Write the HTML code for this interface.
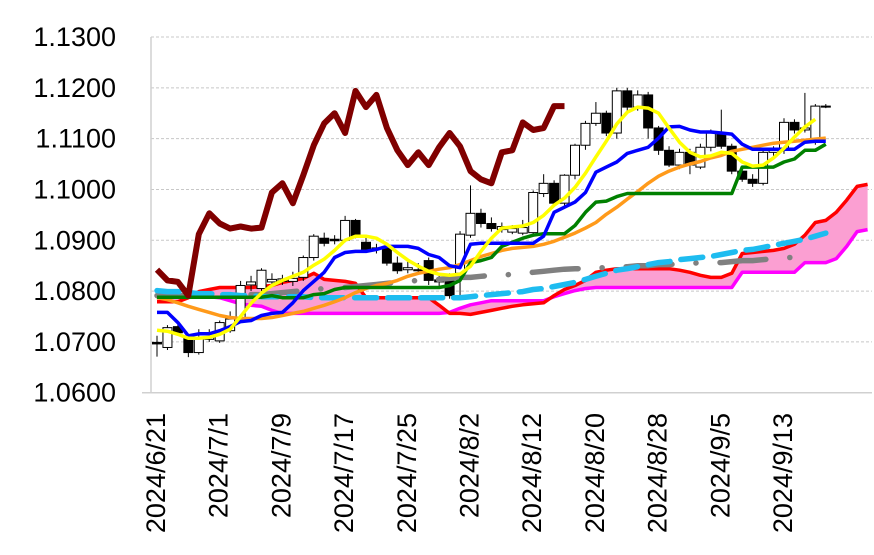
<!DOCTYPE html>
<html><head><meta charset="utf-8"><style>
html,body{margin:0;padding:0;background:#fff;}
svg{display:block;font-family:"Liberation Sans",sans-serif;}
</style></head><body>
<svg id="chart" width="874" height="555" viewBox="0 0 874 555" xmlns="http://www.w3.org/2000/svg">
<g id="grid"></g>
<g id="yaxis"></g>
<g id="xaxis"></g>
<g id="plot"></g>
</svg>
<script>
const dateLabels = ["2024/6/21","2024/7/1","2024/7/9","2024/7/17","2024/7/25","2024/8/2","2024/8/12","2024/8/20","2024/8/28","2024/9/5","2024/9/13"];
const labelIndex = [0,6,12,18,24,30,36,42,48,54,60];
const yTicks = [1.06,1.07,1.08,1.09,1.10,1.11,1.12,1.13];
const opens = [1.0699,1.0689,1.0730,1.0707,1.0679,1.0705,1.0702,1.0722,1.0742,1.0812,1.0805,1.0818,1.0819,1.0819,1.0827,1.0866,1.0904,1.0902,1.0900,1.0939,1.0896,1.0885,1.0886,1.0855,1.0842,1.0840,1.0860,1.0822,1.0827,1.0835,1.0910,1.0953,1.0933,1.0921,1.0916,1.0914,1.0915,1.0992,1.1012,1.0973,1.1028,1.1087,1.1130,1.1150,1.1111,1.1194,1.1162,1.1186,1.1121,1.1077,1.1048,1.1073,1.1044,1.1083,1.1111,1.1085,1.1036,1.1020,1.1012,1.1073,1.1077,1.1132,1.1117,1.1097,1.1164];
const closes = [1.0696,1.0728,1.0718,1.0679,1.0708,1.0710,1.0738,1.0745,1.0811,1.0818,1.0841,1.0823,1.0824,1.0825,1.0866,1.0908,1.0894,1.0899,1.0939,1.0908,1.0882,1.0883,1.0855,1.0840,1.0846,1.0842,1.0821,1.0818,1.0791,1.0912,1.0953,1.0933,1.0923,1.0927,1.0923,1.0925,1.0994,1.1012,1.0973,1.1028,1.1087,1.1130,1.1150,1.1111,1.1194,1.1162,1.1186,1.1121,1.1077,1.1048,1.1073,1.1048,1.1083,1.1111,1.1085,1.1036,1.1020,1.1012,1.1073,1.1077,1.1132,1.1117,1.1121,1.1164,1.1164];
const highs = [1.0712,1.0733,1.0736,1.0712,1.0725,1.0725,1.0742,1.0760,1.0820,1.0830,1.0845,1.0835,1.0832,1.0838,1.0870,1.0912,1.0915,1.0910,1.0948,1.0942,1.0905,1.0893,1.0890,1.0868,1.0860,1.0855,1.0866,1.0832,1.0835,1.0918,1.1008,1.0962,1.0945,1.0935,1.0930,1.0940,1.0998,1.1030,1.1018,1.1030,1.1090,1.1135,1.1172,1.1155,1.1200,1.1200,1.1195,1.1192,1.1125,1.1085,1.1080,1.1080,1.1090,1.1118,1.1157,1.1090,1.1045,1.1030,1.1078,1.1085,1.1140,1.1138,1.1190,1.1168,1.1168];
const lows = [1.0671,1.0684,1.0712,1.0670,1.0675,1.0700,1.0698,1.0718,1.0738,1.0800,1.0800,1.0812,1.0812,1.0810,1.0820,1.0860,1.0888,1.0892,1.0896,1.0904,1.0876,1.0874,1.0850,1.0834,1.0835,1.0832,1.0812,1.0810,1.0785,1.0790,1.0905,1.0925,1.0917,1.0915,1.0912,1.0910,1.0912,1.0985,1.0968,1.0968,1.1020,1.1078,1.1125,1.1105,1.1100,1.1155,1.1155,1.1100,1.1068,1.1044,1.1040,1.1030,1.1040,1.1075,1.1080,1.1030,1.1015,1.1005,1.1008,1.1065,1.1070,1.1110,1.1112,1.1088,1.1160];
const tenkan = [1.0758,1.0758,1.0738,1.0712,1.0716,1.0716,1.0722,1.0730,1.0740,1.0742,1.0752,1.0756,1.0758,1.0777,1.0801,1.0819,1.0837,1.0866,1.0876,1.0878,1.0878,1.0882,1.0888,1.0888,1.0888,1.0884,1.0872,1.0866,1.0850,1.0846,1.0892,1.0894,1.0894,1.0894,1.0894,1.0894,1.0894,1.0908,1.0955,1.0965,1.0975,1.0994,1.1034,1.1044,1.1054,1.1071,1.1077,1.1083,1.1101,1.1123,1.1124,1.1117,1.1113,1.1113,1.1111,1.1109,1.1089,1.1079,1.1079,1.1079,1.1079,1.1079,1.1093,1.1095,1.1095];
const kijun = [1.0788,1.0788,1.0788,1.0788,1.0788,1.0788,1.0788,1.0788,1.0788,1.0788,1.0788,1.0791,1.0787,1.0787,1.0787,1.0793,1.0795,1.0803,1.0807,1.0807,1.0807,1.0807,1.0807,1.0807,1.0807,1.0807,1.0807,1.0807,1.0811,1.0821,1.0856,1.0860,1.0866,1.0888,1.0896,1.0904,1.0910,1.0913,1.0913,1.0913,1.0929,1.0955,1.0975,1.0977,1.0986,1.0992,1.0992,1.0992,1.0992,1.0992,1.0992,1.0992,1.0992,1.0992,1.0992,1.0992,1.1044,1.1044,1.1044,1.1044,1.1054,1.1060,1.1077,1.1077,1.1089];
const ma5 = [1.0723,1.0721,1.0715,1.0707,1.0707,1.0709,1.0715,1.0725,1.0750,1.0776,1.0796,1.0811,1.0821,1.0829,1.0837,1.0851,1.0863,1.0880,1.0900,1.0908,1.0908,1.0904,1.0892,1.0876,1.0861,1.0849,1.0839,1.0833,1.0831,1.0833,1.0849,1.0878,1.0904,1.0924,1.0926,1.0928,1.0935,1.0949,1.0969,1.0983,1.1004,1.1032,1.1064,1.1095,1.1129,1.1152,1.1162,1.1160,1.1150,1.1121,1.1093,1.1073,1.1064,1.1066,1.1073,1.1071,1.1054,1.1046,1.1048,1.1062,1.1081,1.1103,1.1123,1.1138];
const ma25 = [1.0787,1.0783,1.0777,1.0770,1.0764,1.0758,1.0752,1.0748,1.0746,1.0746,1.0746,1.0748,1.0752,1.0756,1.0760,1.0766,1.0772,1.0779,1.0787,1.0797,1.0805,1.0811,1.0815,1.0821,1.0829,1.0835,1.0839,1.0843,1.0846,1.0852,1.0860,1.0868,1.0874,1.0880,1.0884,1.0886,1.0888,1.0892,1.0898,1.0906,1.0914,1.0924,1.0935,1.0951,1.0965,1.0981,1.0996,1.1012,1.1026,1.1036,1.1044,1.1050,1.1055,1.1062,1.1067,1.1075,1.1079,1.1083,1.1087,1.1091,1.1093,1.1095,1.1097,1.1099,1.1101];
const ma75 = [1.0801,1.0799,1.0799,1.0797,1.0795,1.0795,1.0793,1.0793,1.0791,1.0791,1.0789,1.0789,1.0789,1.0789,1.0789,1.0787,1.0787,1.0787,1.0787,1.0787,1.0787,1.0787,1.0787,1.0787,1.0787,1.0787,1.0787,1.0787,1.0787,1.0787,1.0789,1.0791,1.0793,1.0795,1.0797,1.0799,1.0803,1.0805,1.0809,1.0813,1.0817,1.0823,1.0829,1.0835,1.0841,1.0844,1.0848,1.0852,1.0856,1.0858,1.0862,1.0864,1.0866,1.0868,1.0872,1.0876,1.0880,1.0882,1.0886,1.0890,1.0894,1.0898,1.0902,1.0908,1.0914];
const ma200 = [1.0791,1.0791,1.0791,1.0791,1.0791,1.0791,1.0791,1.0791,1.0791,1.0793,1.0793,1.0795,1.0797,1.0799,1.0801,1.0803,1.0805,1.0805,1.0807,1.0809,1.0811,1.0813,1.0815,1.0817,1.0819,1.0821,1.0821,1.0823,1.0825,1.0827,1.0827,1.0829,1.0831,1.0831,1.0833,1.0835,1.0837,1.0839,1.0841,1.0843,1.0844,1.0844,1.0846,1.0846,1.0848,1.0848,1.0850,1.0850,1.0852,1.0852,1.0854,1.0854,1.0856,1.0856,1.0856,1.0858,1.0860,1.0860,1.0862,1.0864,1.0866,1.0866,1.0868];
const spanA = [1.0779,1.0779,1.0779,1.0787,1.0799,1.0803,1.0807,1.0807,1.0807,1.0807,1.0809,1.0811,1.0817,1.0821,1.0825,1.0835,1.0823,1.0821,1.0819,1.0815,1.0787,1.0787,1.0787,1.0787,1.0787,1.0787,1.0787,1.0772,1.0756,1.0756,1.0754,1.0758,1.0762,1.0766,1.0770,1.0773,1.0775,1.0777,1.0791,1.0803,1.0811,1.0821,1.0837,1.0841,1.0844,1.0844,1.0844,1.0844,1.0844,1.0844,1.0841,1.0837,1.0831,1.0827,1.0827,1.0835,1.0874,1.0876,1.0878,1.0880,1.0884,1.0892,1.0910,1.0935,1.0939,1.0955,1.0979,1.1006,1.1010];
const spanB = [1.0789,1.0789,1.0789,1.0789,1.0789,1.0789,1.0787,1.0781,1.0775,1.0772,1.0770,1.0762,1.0756,1.0756,1.0756,1.0756,1.0756,1.0756,1.0756,1.0756,1.0756,1.0756,1.0756,1.0756,1.0756,1.0756,1.0756,1.0756,1.0758,1.0766,1.0773,1.0777,1.0781,1.0781,1.0781,1.0781,1.0781,1.0781,1.0789,1.0795,1.0801,1.0805,1.0807,1.0807,1.0807,1.0807,1.0807,1.0807,1.0807,1.0807,1.0807,1.0807,1.0807,1.0807,1.0807,1.0807,1.0837,1.0837,1.0837,1.0837,1.0837,1.0837,1.0856,1.0856,1.0856,1.0864,1.0888,1.0917,1.0921];
const chikouShift = 25;

const NS = "http://www.w3.org/2000/svg";
const X0 = 157, DX = 10.45, PL = 151, PR = 872, PT = 37, PB = 392.7, YMIN = 1.06, YMAX = 1.13;
function xs(i){ return X0 + i*DX; }
function ys(v){ return PT + (YMAX - v)/(YMAX - YMIN)*(PB - PT); }
function mk(tag, attrs, parent){ const e = document.createElementNS(NS, tag); for (const k in attrs) e.setAttribute(k, attrs[k]); parent.appendChild(e); return e; }
const grid = document.getElementById('grid'), yaxis = document.getElementById('yaxis'), xaxis = document.getElementById('xaxis'), plot = document.getElementById('plot');

yTicks.forEach((t, k) => {
  const y = ys(t);
  if (k > 0) {
    const g = mk('line', {x1: PL, x2: PR, y1: y, y2: y, stroke: '#c8c8c8', 'stroke-width': 1, 'stroke-dasharray': '3 2'}, grid);
    
    
  }
  const tx = mk('text', {x: 116, y: y, 'text-anchor': 'end', 'dominant-baseline': 'central', 'font-size': 27, fill: '#000'}, yaxis);
  tx.textContent = t.toFixed(4);
  
  
});
const axL = mk('line', {x1: PL, x2: PL, y1: PT, y2: PB, stroke: '#d0d0d0', 'stroke-width': 1.5}, yaxis);


const axB = mk('line', {x1: 142, x2: PR, y1: PB, y2: PB, stroke: '#d0d0d0', 'stroke-width': 1.5}, xaxis);


dateLabels.forEach((d, k) => {
  const x = xs(labelIndex[k]) - 1;
  const tx = mk('text', {transform: `translate(${x},413) rotate(-90)`, 'text-anchor': 'end', 'dominant-baseline': 'central', 'font-size': 27, fill: '#000'}, xaxis);
  tx.textContent = d;
  
  
});

function pts(arr, offset){ return arr.map((v, i) => xs(i + (offset || 0)).toFixed(1) + ',' + ys(v).toFixed(1)).join(' '); }

let poly = spanA.map((v, i) => xs(i) + ',' + ys(v));
for (let i = spanB.length - 1; i >= 0; i--) poly.push(xs(i) + ',' + ys(spanB[i]));
const cloud = mk('polygon', {points: poly.join(' '), fill: '#fb9fd2', stroke: 'none'}, plot);


const lb = mk('polyline', {points: pts(spanB), fill: 'none', stroke: '#ff00ff', 'stroke-width': 3.5, 'stroke-linejoin': 'round'}, plot);


const la = mk('polyline', {points: pts(spanA), fill: 'none', stroke: '#ff0000', 'stroke-width': 3.5, 'stroke-linejoin': 'round'}, plot);



const cg = mk('g', {}, plot);


opens.forEach((o, i) => {
  const c = closes[i], x = xs(i);
  const w = mk('line', {x1: x, x2: x, y1: ys(highs[i]), y2: ys(lows[i]), stroke: '#000', 'stroke-width': 1}, cg);
  
  
  const top = ys(Math.max(o, c)), bot = ys(Math.min(o, c));
  const b = mk('rect', {x: x - 4.5, y: top, width: 9, height: Math.max(1, bot - top), fill: c >= o ? '#fff' : '#000', stroke: '#000', 'stroke-width': 1}, cg);
  
  
});

function line(arr, color, w, extra, offset){
  const a = Object.assign({points: pts(arr, offset), fill: 'none', stroke: color, 'stroke-width': w, 'stroke-linejoin': 'round'}, extra || {});
  return mk('polyline', a, plot);
}
const l1 = line(ma200, '#808080', 5.5, {'stroke-dasharray': '46 24 0.1 24', 'stroke-linecap': 'round'});


const l2 = line(ma75, '#1ebcf0', 5.5, {'stroke-dasharray': '22 11', 'stroke-linecap': 'round'});


const l3 = line(ma25, '#ff9a1a', 3.5);


const l4 = line(kijun, '#008000', 3.5);


const l5 = line(tenkan, '#0000ff', 3.5);


const l6 = line(ma5, '#ffff00', 3.5);


const chikou = closes.slice(chikouShift);
const l7 = line(chikou, '#800000', 6);


</script>
</body></html>
